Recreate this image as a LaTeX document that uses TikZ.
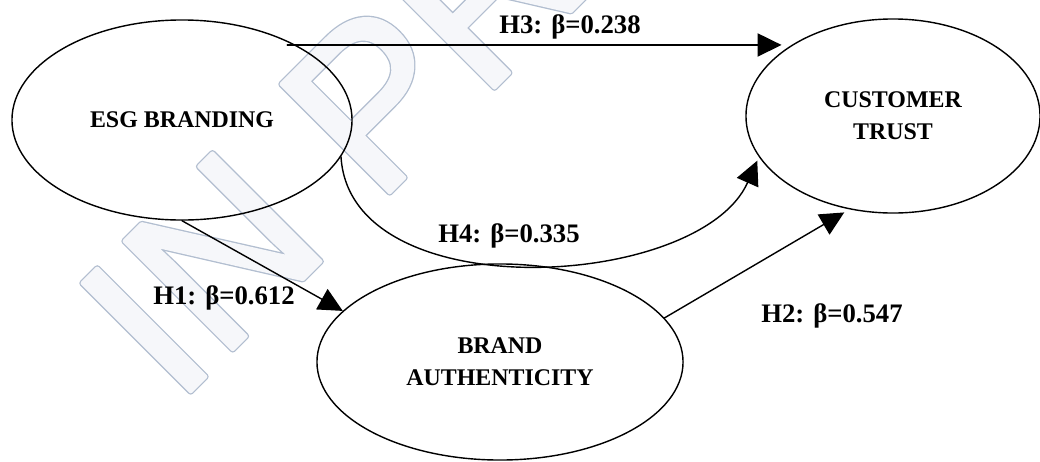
\documentclass[tikz,border=0pt]{standalone}
\usepackage{fontspec}
\setmainfont{Liberation Serif}
\newfontfamily\wmedgefont[FakeBold=3]{Liberation Sans}
\newfontfamily\wmbodyfont[FakeBold=1.8]{Liberation Sans}
\usetikzlibrary{arrows.meta,shapes.geometric}
\definecolor{wmline}{RGB}{178,190,208}
\definecolor{wmfill}{RGB}{246,247,250}
\begin{document}
\begin{tikzpicture}[x=0.025cm,y=-0.025cm,line join=round,line cap=round,
	var/.style={draw,ellipse,line width=1pt,inner sep=0pt,align=center,
		font=\fontsize{17}{22.5}\selectfont\bfseries},
	arr/.style={-{Triangle[length=0.6cm,width=0.58cm]},line width=1pt},
	lab/.style={anchor=base,inner sep=0pt,font=\fontsize{19}{22}\selectfont\bfseries},
	wm/.style={rotate=45,anchor=base west,inner sep=0pt}]
	\useasboundingbox (0,0) rectangle (1040,461);
	\clip (0,0) rectangle (1040,461);
	\path (176,406) coordinate (wmo);
	\node[wm,text=wmline,font=\wmedgefont\fontsize{158}{160}\selectfont] (pressedge) at (wmo) {IN PRESS};
	\node[wm,text=wmfill,font=\wmbodyfont\fontsize{158}{160}\selectfont] (press) at (wmo) {IN PRESS};
	\node[var,minimum width=8.5cm,minimum height=5cm] (esg) at (182,120) {ESG BRANDING};
	\node[var,minimum width=7.35cm,minimum height=4.85cm] (trust) at (893,116) {CUSTOMER\\TRUST};
	\node[var,minimum width=9.15cm,minimum height=4.9cm] (ba) at (500,362) {BRAND\\AUTHENTICITY};
	\draw[arr] (esg.south) -- (ba.162);
	\draw[arr,shorten >=0.15cm] (ba.15) -- (trust.-115);
	\draw[arr,shorten >=0.25cm] (esg.37 |- trust.145) -- (trust.145);
	\draw[arr,shorten >=0.1cm] (esg.-13) .. controls (350,310) and (700,290) .. (trust.-163);
	\node[lab] (h1) at (224,304) {H1: β=0.612};
	\node[lab] (h2) at (832,322) {H2: β=0.547};
	\node[lab] (h3) at (570,33) {H3: β=0.238};
	\node[lab] (h4) at (509,242) {H4: β=0.335};
\end{tikzpicture}
\end{document}
